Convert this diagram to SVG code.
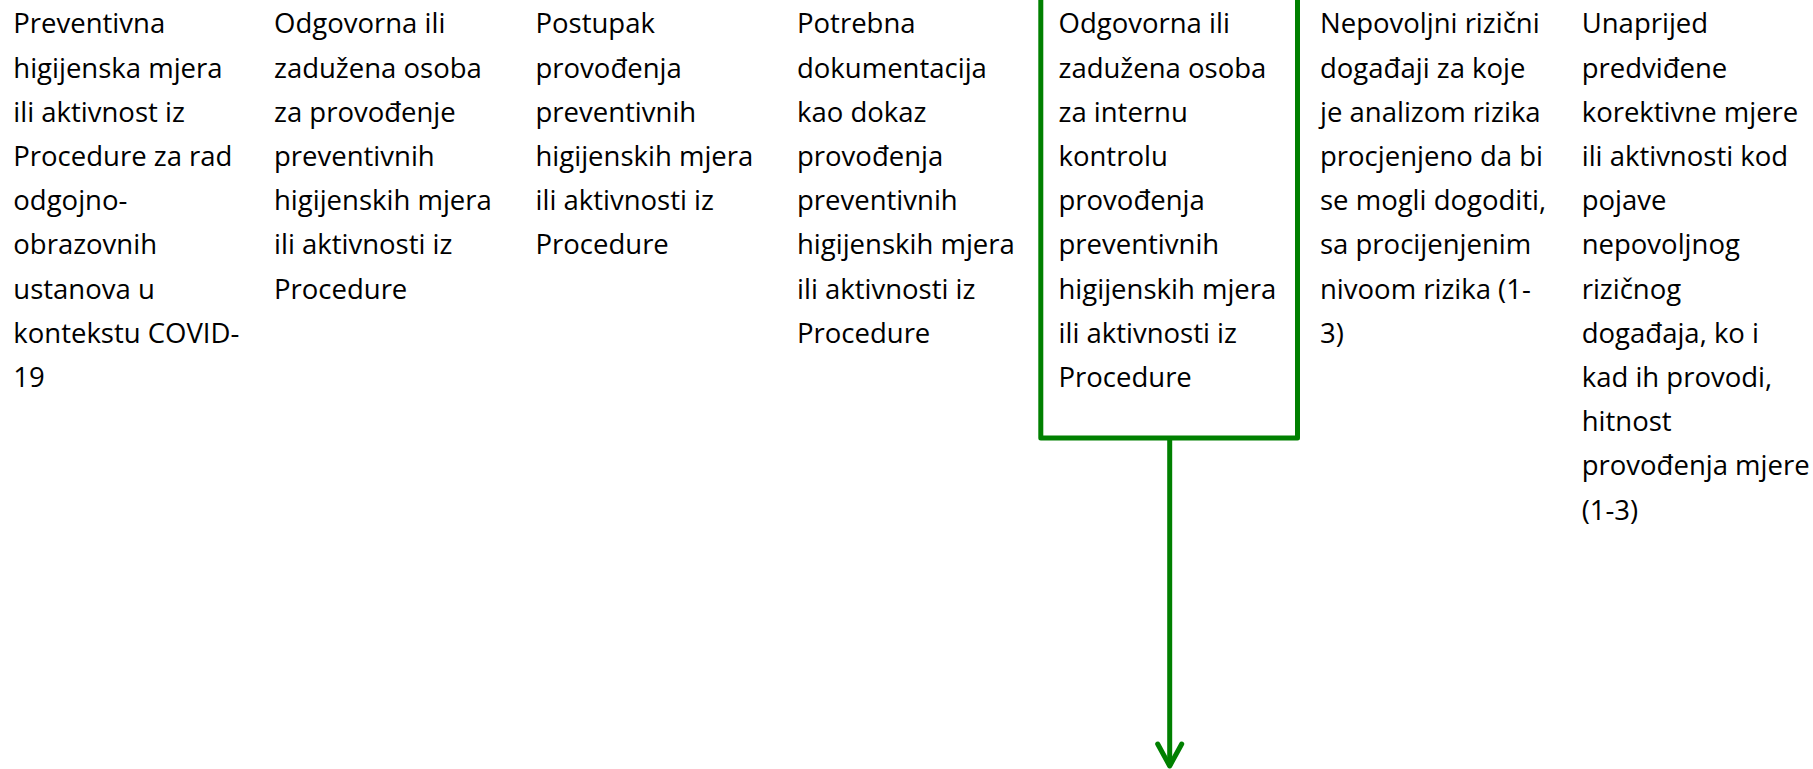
<svg xmlns="http://www.w3.org/2000/svg" width="1813" height="769" viewBox="0 0 1813 769">
  <style>
    .t { font-family: "Open Sans", "Noto Sans", "Liberation Sans", sans-serif; font-size: 27.5px; fill: #000000; }
    .box { fill: #ffffff; stroke: #008000; stroke-width: 5; stroke-linejoin: round; }
    .conn { fill: none; stroke: #008000; stroke-width: 5; }
  </style>
  <defs>
    <marker id="arrow" markerUnits="userSpaceOnUse" viewBox="-28 -17 34 34" markerWidth="34" markerHeight="34" refX="0" refY="0" orient="auto">
      <path d="M-22,-12 L0,0 L-22,12" fill="none" stroke="#008000" stroke-width="5" stroke-linecap="round" stroke-linejoin="round"/>
    </marker>
  </defs>
  <rect width="1813" height="769" fill="#ffffff"/>

  <g id="node-col1">
    <text class="t" x="13.3" y="33.3">
      <tspan x="13.3" y="33.3">Preventivna</tspan>
      <tspan x="13.3" y="77.5">higijenska mjera</tspan>
      <tspan x="13.3" y="121.7">ili aktivnost iz</tspan>
      <tspan x="13.3" y="165.9">Procedure za rad</tspan>
      <tspan x="13.3" y="210.1">odgojno-</tspan>
      <tspan x="13.3" y="254.3">obrazovnih</tspan>
      <tspan x="13.3" y="298.5">ustanova u</tspan>
      <tspan x="13.3" y="342.7">kontekstu COVID-</tspan>
      <tspan x="13.3" y="386.9">19</tspan>
    </text>
  </g>

  <g id="node-col2">
    <text class="t" x="274" y="33.3">
      <tspan x="274" y="33.3">Odgovorna ili</tspan>
      <tspan x="274" y="77.5">zadužena osoba</tspan>
      <tspan x="274" y="121.7">za provođenje</tspan>
      <tspan x="274" y="165.9">preventivnih</tspan>
      <tspan x="274" y="210.1">higijenskih mjera</tspan>
      <tspan x="274" y="254.3">ili aktivnosti iz</tspan>
      <tspan x="274" y="298.5">Procedure</tspan>
    </text>
  </g>

  <g id="node-col3">
    <text class="t" x="535.5" y="33.3">
      <tspan x="535.5" y="33.3">Postupak</tspan>
      <tspan x="535.5" y="77.5">provođenja</tspan>
      <tspan x="535.5" y="121.7">preventivnih</tspan>
      <tspan x="535.5" y="165.9">higijenskih mjera</tspan>
      <tspan x="535.5" y="210.1">ili aktivnosti iz</tspan>
      <tspan x="535.5" y="254.3">Procedure</tspan>
    </text>
  </g>

  <g id="node-col4">
    <text class="t" x="797" y="33.3">
      <tspan x="797" y="33.3">Potrebna</tspan>
      <tspan x="797" y="77.5">dokumentacija</tspan>
      <tspan x="797" y="121.7">kao dokaz</tspan>
      <tspan x="797" y="165.9">provođenja</tspan>
      <tspan x="797" y="210.1">preventivnih</tspan>
      <tspan x="797" y="254.3">higijenskih mjera</tspan>
      <tspan x="797" y="298.5">ili aktivnosti iz</tspan>
      <tspan x="797" y="342.7">Procedure</tspan>
    </text>
  </g>

  <g id="node-col5">
    <rect class="box" x="1040.8" y="-20" width="256.7" height="458"/>
    <text class="t" x="1058.5" y="33.3">
      <tspan x="1058.5" y="33.3">Odgovorna ili</tspan>
      <tspan x="1058.5" y="77.5">zadužena osoba</tspan>
      <tspan x="1058.5" y="121.7">za internu</tspan>
      <tspan x="1058.5" y="165.9">kontrolu</tspan>
      <tspan x="1058.5" y="210.1">provođenja</tspan>
      <tspan x="1058.5" y="254.3">preventivnih</tspan>
      <tspan x="1058.5" y="298.5">higijenskih mjera</tspan>
      <tspan x="1058.5" y="342.7">ili aktivnosti iz</tspan>
      <tspan x="1058.5" y="386.9">Procedure</tspan>
    </text>
  </g>

  <g id="node-col6">
    <text class="t" x="1320" y="33.3">
      <tspan x="1320" y="33.3">Nepovoljni rizični</tspan>
      <tspan x="1320" y="77.5">događaji za koje</tspan>
      <tspan x="1320" y="121.7">je analizom rizika</tspan>
      <tspan x="1320" y="165.9">procjenjeno da bi</tspan>
      <tspan x="1320" y="210.1">se mogli dogoditi,</tspan>
      <tspan x="1320" y="254.3">sa procijenjenim</tspan>
      <tspan x="1320" y="298.5">nivoom rizika (1-</tspan>
      <tspan x="1320" y="342.7">3)</tspan>
    </text>
  </g>

  <g id="node-col7">
    <text class="t" x="1581.7" y="33.3">
      <tspan x="1581.7" y="33.3">Unaprijed</tspan>
      <tspan x="1581.7" y="77.5">predviđene</tspan>
      <tspan x="1581.7" y="121.7">korektivne mjere</tspan>
      <tspan x="1581.7" y="165.9">ili aktivnosti kod</tspan>
      <tspan x="1581.7" y="210.1">pojave</tspan>
      <tspan x="1581.7" y="254.3">nepovoljnog</tspan>
      <tspan x="1581.7" y="298.5">rizičnog</tspan>
      <tspan x="1581.7" y="342.7">događaja, ko i</tspan>
      <tspan x="1581.7" y="386.9">kad ih provodi,</tspan>
      <tspan x="1581.7" y="431.1">hitnost</tspan>
      <tspan x="1581.7" y="475.3">provođenja mjere</tspan>
      <tspan x="1581.7" y="519.5">(1-3)</tspan>
    </text>
  </g>

  <g id="connectors">
    <path class="conn" d="M1169.7,440 V766" marker-end="url(#arrow)"/>
  </g>
</svg>
